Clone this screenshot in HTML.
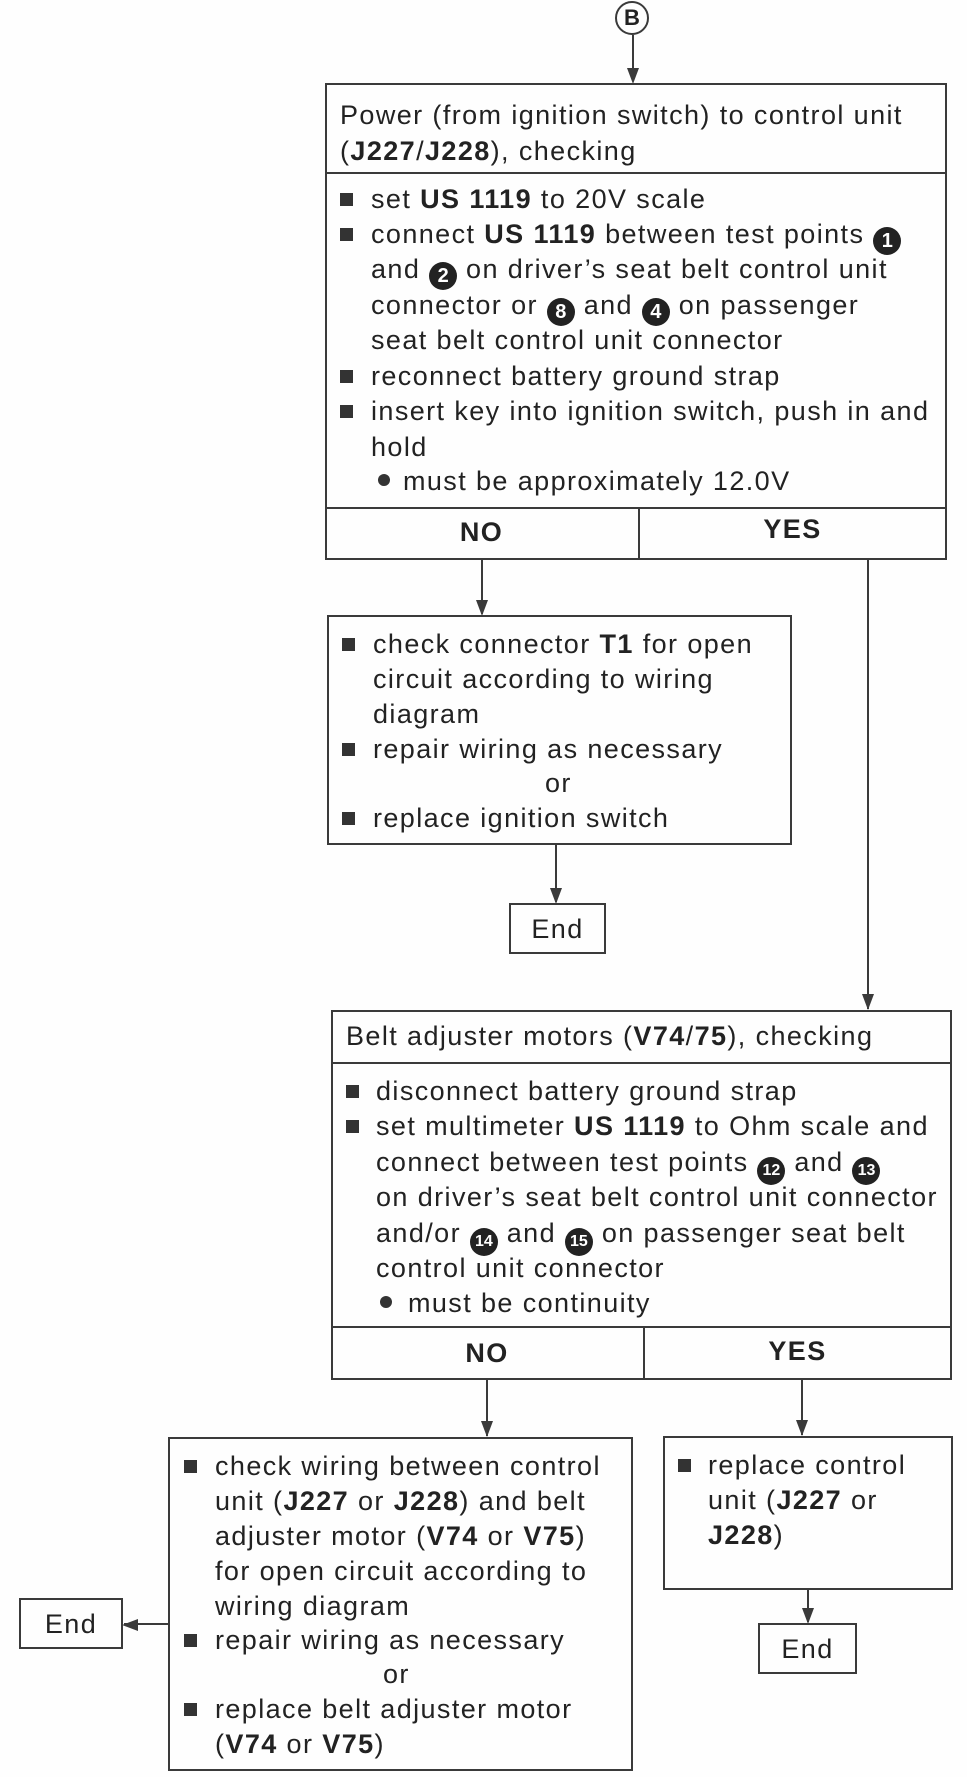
<!DOCTYPE html>
<html><head><meta charset="utf-8"><style>
html,body{margin:0;padding:0;background:#fff}
#c{position:relative;width:967px;height:1777px;overflow:hidden;background:#fefefe;font-family:"Liberation Sans",Arial,sans-serif;color:#222;font-size:27px;letter-spacing:1.4px}
.b{position:absolute;border:2.5px solid #3a3a3a;box-sizing:border-box}
.h{position:absolute;height:0;border-top:2.5px solid #3a3a3a}
.v{position:absolute;width:0;border-left:2.5px solid #3a3a3a}
.t{position:absolute;white-space:nowrap;line-height:30px}
.sq{position:absolute;width:13px;height:13px;background:#333}
.dot{position:absolute;width:12px;height:12px;border-radius:50%;background:#333}
.n{display:inline-block;width:28px;height:28px;border-radius:50%;background:#222;color:#fff;font-weight:bold;font-size:20px;line-height:28px;text-align:center;vertical-align:-4px;letter-spacing:0}
.ah{position:absolute;width:0;height:0;border-left:6px solid transparent;border-right:6px solid transparent;border-top:16px solid #3a3a3a}
b{font-weight:bold}
</style></head><body><div id="c">
<div style="position:absolute;left:615px;top:1px;width:34px;height:34px;border:2.5px solid #3a3a3a;border-radius:50%;box-sizing:border-box;text-align:center;font-weight:bold;font-size:22px;line-height:30px;letter-spacing:0">B</div>
<div class="v" style="left:632px;top:35px;height:46px"></div><div class="ah" style="left:627px;top:68px"></div>

<div class="b" style="left:325px;top:83px;width:622px;height:477px"></div>
<div class="h" style="left:325px;top:172px;width:622px"></div>
<div class="h" style="left:325px;top:507px;width:622px"></div>
<div class="v" style="left:638px;top:507px;height:52px"></div>
<div class="t" style="left:340px;top:100px">Power (from ignition switch) to control unit</div>
<div class="t" style="left:340px;top:136px">(<b>J227</b>/<b>J228</b>), checking</div>
<div class="sq" style="left:340px;top:193px"></div><div class="t" style="left:371px;top:184px">set <b>US 1119</b> to 20V scale</div>
<div class="sq" style="left:340px;top:228px"></div><div class="t" style="left:371px;top:219px">connect <b>US 1119</b> between test points <span class="n">1</span></div>
<div class="t" style="left:371px;top:254px">and <span class="n">2</span> on driver’s seat belt control unit</div>
<div class="t" style="left:371px;top:290px">connector or <span class="n">8</span> and <span class="n">4</span> on passenger</div>
<div class="t" style="left:371px;top:325px">seat belt control unit connector</div>
<div class="sq" style="left:340px;top:370px"></div><div class="t" style="left:371px;top:361px">reconnect battery ground strap</div>
<div class="sq" style="left:340px;top:405px"></div><div class="t" style="left:371px;top:396px">insert key into ignition switch, push in and</div>
<div class="t" style="left:371px;top:432px">hold</div>
<div class="dot" style="left:378px;top:474px"></div><div class="t" style="left:403px;top:466px">must be approximately 12.0V</div>
<div class="t" style="left:325px;top:517px;width:313px;text-align:center;font-weight:bold">NO</div>
<div class="t" style="left:638px;top:514px;width:309px;text-align:center;font-weight:bold">YES</div>

<div class="v" style="left:481px;top:559px;height:55px"></div><div class="ah" style="left:476px;top:600px"></div>
<div class="b" style="left:327px;top:615px;width:465px;height:230px"></div>
<div class="sq" style="left:342px;top:638px"></div><div class="t" style="left:373px;top:629px">check connector <b>T1</b> for open</div>
<div class="t" style="left:373px;top:664px">circuit according to wiring</div>
<div class="t" style="left:373px;top:699px">diagram</div>
<div class="sq" style="left:342px;top:743px"></div><div class="t" style="left:373px;top:734px">repair wiring as necessary</div>
<div class="t" style="left:545px;top:768px">or</div>
<div class="sq" style="left:342px;top:812px"></div><div class="t" style="left:373px;top:803px">replace ignition switch</div>
<div class="v" style="left:555px;top:844px;height:58px"></div><div class="ah" style="left:550px;top:888px"></div>
<div class="b" style="left:509px;top:903px;width:97px;height:51px"></div>
<div class="t" style="left:509px;top:914px;width:97px;text-align:center">End</div>

<div class="v" style="left:867px;top:559px;height:450px"></div><div class="ah" style="left:862px;top:994px"></div>

<div class="b" style="left:331px;top:1010px;width:621px;height:370px"></div>
<div class="h" style="left:331px;top:1062px;width:621px"></div>
<div class="h" style="left:331px;top:1326px;width:621px"></div>
<div class="v" style="left:643px;top:1326px;height:53px"></div>
<div class="t" style="left:346px;top:1021px">Belt adjuster motors (<b>V74</b>/<b>75</b>), checking</div>
<div class="sq" style="left:346px;top:1085px"></div><div class="t" style="left:376px;top:1076px">disconnect battery ground strap</div>
<div class="sq" style="left:346px;top:1120px"></div><div class="t" style="left:376px;top:1111px">set multimeter <b>US 1119</b> to Ohm scale and</div>
<div class="t" style="left:376px;top:1147px">connect between test points <span class="n" style="font-size:16px">12</span> and <span class="n" style="font-size:16px">13</span></div>
<div class="t" style="left:376px;top:1182px">on driver’s seat belt control unit connector</div>
<div class="t" style="left:376px;top:1218px">and/or <span class="n" style="font-size:16px">14</span> and <span class="n" style="font-size:16px">15</span> on passenger seat belt</div>
<div class="t" style="left:376px;top:1253px">control unit connector</div>
<div class="dot" style="left:380px;top:1296px"></div><div class="t" style="left:408px;top:1288px">must be continuity</div>
<div class="t" style="left:331px;top:1338px;width:312px;text-align:center;font-weight:bold">NO</div>
<div class="t" style="left:643px;top:1336px;width:309px;text-align:center;font-weight:bold">YES</div>

<div class="v" style="left:486px;top:1379px;height:57px"></div><div class="ah" style="left:481px;top:1421px"></div>
<div class="v" style="left:801px;top:1379px;height:56px"></div><div class="ah" style="left:796px;top:1420px"></div>

<div class="b" style="left:168px;top:1437px;width:465px;height:334px"></div>
<div class="sq" style="left:184px;top:1460px"></div><div class="t" style="left:215px;top:1451px">check wiring between control</div>
<div class="t" style="left:215px;top:1486px">unit (<b>J227</b> or <b>J228</b>) and belt</div>
<div class="t" style="left:215px;top:1521px">adjuster motor (<b>V74</b> or <b>V75</b>)</div>
<div class="t" style="left:215px;top:1556px">for open circuit according to</div>
<div class="t" style="left:215px;top:1591px">wiring diagram</div>
<div class="sq" style="left:184px;top:1634px"></div><div class="t" style="left:215px;top:1625px">repair wiring as necessary</div>
<div class="t" style="left:383px;top:1659px">or</div>
<div class="sq" style="left:184px;top:1703px"></div><div class="t" style="left:215px;top:1694px">replace belt adjuster motor</div>
<div class="t" style="left:215px;top:1729px">(<b>V74</b> or <b>V75</b>)</div>
<div class="h" style="left:124px;top:1623px;width:44px"></div>
<div style="position:absolute;left:122px;top:1619px;width:0;height:0;border-top:6px solid transparent;border-bottom:6px solid transparent;border-right:16px solid #3a3a3a"></div>
<div class="b" style="left:19px;top:1598px;width:104px;height:51px"></div>
<div class="t" style="left:19px;top:1609px;width:104px;text-align:center">End</div>

<div class="b" style="left:663px;top:1436px;width:290px;height:154px"></div>
<div class="sq" style="left:678px;top:1459px"></div><div class="t" style="left:708px;top:1450px">replace control</div>
<div class="t" style="left:708px;top:1485px">unit (<b>J227</b> or</div>
<div class="t" style="left:708px;top:1520px"><b>J228</b>)</div>
<div class="v" style="left:807px;top:1589px;height:33px"></div><div class="ah" style="left:802px;top:1608px"></div>
<div class="b" style="left:758px;top:1623px;width:99px;height:51px"></div>
<div class="t" style="left:758px;top:1634px;width:99px;text-align:center">End</div>
</div></body></html>
